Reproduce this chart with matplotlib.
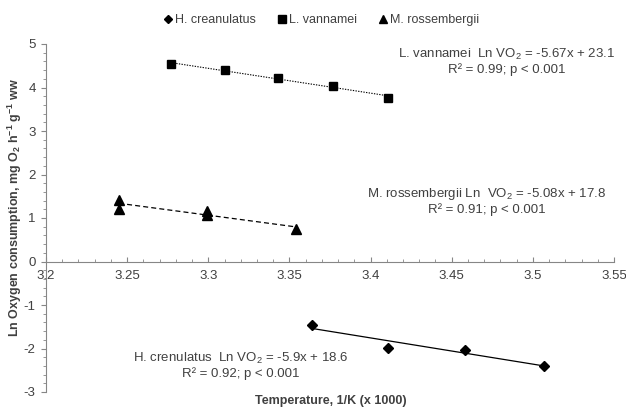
import numpy as np
import matplotlib
matplotlib.use("Agg")
import matplotlib.pyplot as plt
from matplotlib.ticker import MultipleLocator, FuncFormatter

plt.rcParams['font.family'] = ['Liberation Sans', 'DejaVu Sans']
plt.rcParams['mathtext.default'] = 'regular'
plt.rcParams['axes.unicode_minus'] = False

# data (x = 1000/T)
hc_x = [3.364, 3.411, 3.458, 3.507]
hc_y = [-1.46, -1.98, -2.03, -2.40]
lv_x = [3.277, 3.310, 3.343, 3.377, 3.411]
lv_y = [4.54, 4.40, 4.22, 4.03, 3.77]
mr_x = [3.245, 3.245, 3.299, 3.299, 3.354]
mr_y = [1.42, 1.21, 1.15, 1.08, 0.75]

legend_names = ['H. creanulatus', 'L. vannamei', 'M. rossembergii']
eq_lv = ['L. vannamei  Ln VO$_2$ = -5.67x + 23.1', 'R² = 0.99; p < 0.001']
eq_mr = ['M. rossembergii Ln  VO$_2$ = -5.08x + 17.8', 'R² = 0.91; p < 0.001']
eq_hc = ['H. crenulatus  Ln VO$_2$ = -5.9x + 18.6', 'R² = 0.92; p < 0.001']

axis_grey = '#868686'
text_grey = '#404040'

fig = plt.figure(figsize=(6.26, 4.08), dpi=100)
# plot area: x 46..614 px, y 44..392 px
ax = fig.add_axes([46 / 626, 1 - 392 / 408, 568 / 626, 348 / 408])


def trend(ax, x, y, ls, lw):
    k, b = np.polyfit(x, y, 1)
    xs = np.array([min(x), max(x)])
    ax.plot(xs, k * xs + b, color='black', ls=ls, lw=lw, zorder=2)


trend(ax, hc_x, hc_y, '-', 0.9)
trend(ax, lv_x, lv_y, (0, (1.2, 1.2)), 0.8)
trend(ax, mr_x, mr_y, (0, (4, 2.5)), 0.9)

h1, = ax.plot(hc_x, hc_y, 'D', color='black', ms=5.2, ls='none', zorder=3)
h2, = ax.plot(lv_x, lv_y, 's', color='black', ms=6, ls='none', zorder=3)
h3, = ax.plot(mr_x, mr_y, '^', color='black', ms=7, ls='none', zorder=3)

ax.set_xlim(3.2, 3.55)
ax.set_ylim(-3, 5)

for s in ['top', 'right']:
    ax.spines[s].set_visible(False)
ax.spines['bottom'].set_position(('data', 0))
ax.spines['left'].set_color(axis_grey)
ax.spines['bottom'].set_color(axis_grey)

ax.xaxis.set_major_locator(MultipleLocator(0.05))
ax.xaxis.set_minor_locator(MultipleLocator(0.01))
ax.yaxis.set_major_locator(MultipleLocator(1))
ax.yaxis.set_minor_locator(MultipleLocator(0.2))
ax.xaxis.set_major_formatter(FuncFormatter(lambda v, p: '{:g}'.format(round(v, 2))))

ax.tick_params(axis='x', which='both', direction='in', color=axis_grey, labelcolor=text_grey,
               labelsize=9.5, pad=6)
ax.tick_params(axis='x', which='major', length=3.5)
ax.tick_params(axis='x', which='minor', length=2.5)
ax.tick_params(axis='y', which='both', direction='out', color=axis_grey, labelcolor=text_grey,
               labelsize=9.5, pad=4)
ax.tick_params(axis='y', which='major', length=3.5)
ax.tick_params(axis='y', which='minor', length=2.5)

fig.text(331 / 626, 1 - 401 / 408, 'Temperature, 1/K (x 1000)', fontsize=9,
         fontweight='bold', color=text_grey, ha='center', va='center')
fig.text(15 / 626, 1 - 208 / 408, 'Ln Oxygen consumption, mg O$_2$ h$^{-1}$ g$^{-1}$ ww',
         fontsize=9, fontweight='bold', color=text_grey, ha='center', va='center', rotation=90)

tk = dict(fontsize=9.5, color=text_grey, ha='center', va='center', linespacing=1.1)
ax.text(3.484, 4.60, '\n'.join(eq_lv), **tk)
ax.text(3.4717, 1.40, '\n'.join(eq_mr), **tk)
ax.text(3.320, -2.39, '\n'.join(eq_hc), **tk)

fig.legend([h1, h2, h3], legend_names, loc='center', bbox_to_anchor=(0.512, 0.951), ncol=3,
           frameon=False, fontsize=9, handletextpad=0.05, columnspacing=1.6,
           handlelength=1.0, markerscale=0.85, labelcolor=text_grey)

fig.savefig('out.png', dpi=100)
